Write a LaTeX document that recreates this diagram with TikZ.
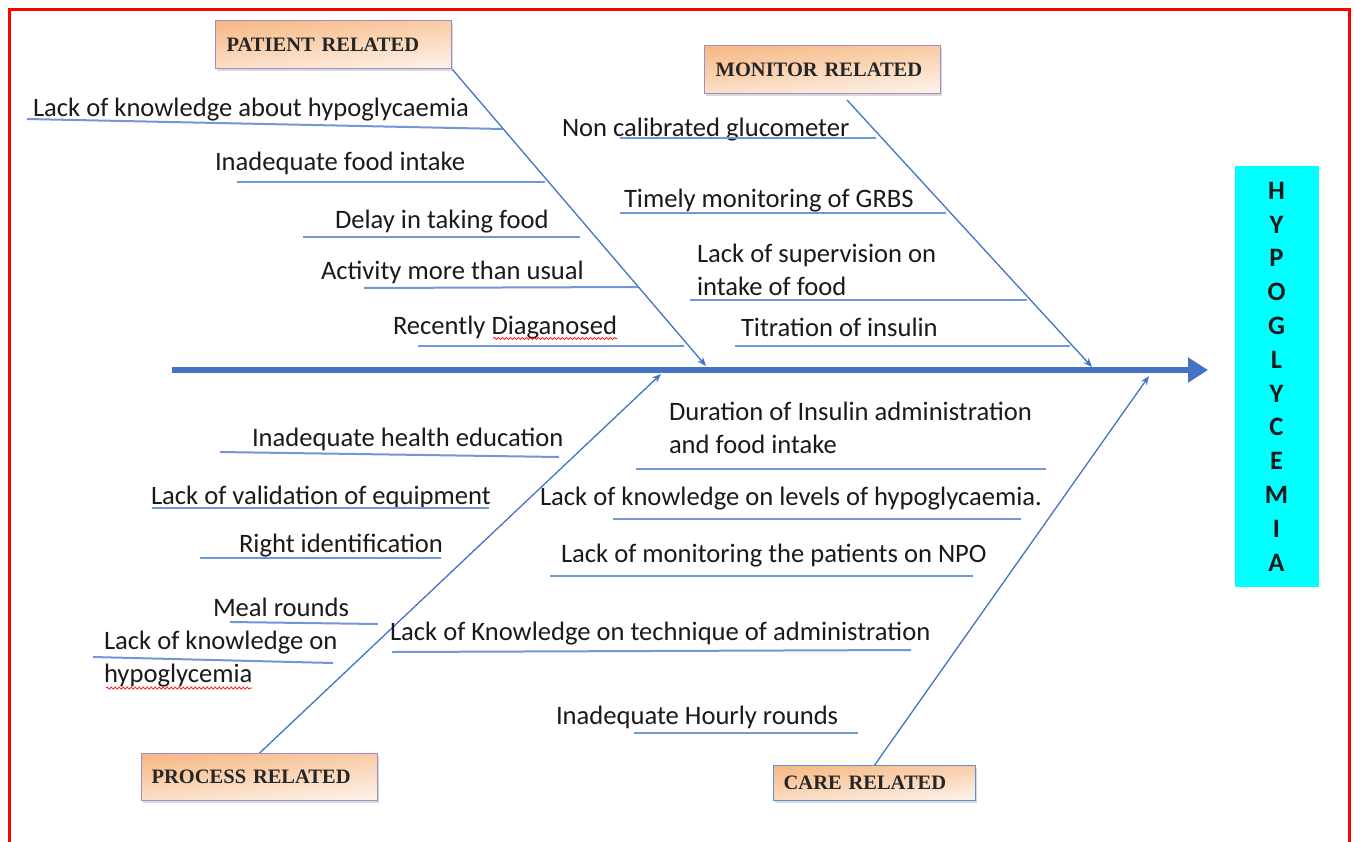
\documentclass[tikz,border=0pt]{standalone}
\usepackage{fontspec}
\setmainfont{Carlito}
\newfontfamily\catfont{Liberation Serif}
\usetikzlibrary{arrows.meta,shadows,calc,decorations.pathmorphing}

\definecolor{bonecol}{HTML}{4472C4}
\definecolor{ulinecol}{HTML}{7097D8}
\definecolor{boxedge}{HTML}{A28CC4}
\definecolor{careedge}{HTML}{5B8FD6}
\definecolor{peachdark}{HTML}{F7BA86}
\definecolor{peachlight}{HTML}{FDF1E8}
\definecolor{effectcyan}{HTML}{00FFFF}
\definecolor{textcol}{HTML}{1A1A1A}

\begin{document}
\begin{tikzpicture}[x=1pt,y=-1pt,
  causefont/.style={font=\fontsize{26.6}{33}\selectfont},
  cause/.style={causefont, inner sep=0pt, outer sep=0pt, anchor=base west, text=textcol},
  causetwo/.style={causefont, inner sep=0pt, outer sep=0pt, anchor=north west, align=left, text=textcol},
  catbox/.style={draw=boxedge, line width=1.3pt, top color=peachdark, bottom color=peachlight,
    shading angle=6, drop shadow={shadow xshift=1.5pt, shadow yshift=-2.5pt, opacity=0.3},
    font=\catfont\bfseries\fontsize{20.5}{24}\selectfont, text=black!85,
    anchor=north west, inner xsep=11pt, inner ysep=0pt, align=left},
  effectbox/.style={fill=effectcyan, minimum width=84pt, minimum height=421pt, inner sep=0pt,
    font=\bfseries\fontsize{26.6}{33.8}\selectfont, align=center, text=textcol},
  bonearrow/.style={draw=bonecol, line width=1.3pt, -{Stealth[length=9pt,width=7pt]}},
  underline/.style={draw=ulinecol, line width=2pt},
  spine/.style={draw=bonecol, line width=6pt, -{Triangle[length=20pt,width=24pt]}},
  squiggle/.style={draw=red, line width=0.7pt, decorate, decoration={snake, amplitude=1.1pt, segment length=4pt}},
  frame/.style={draw=red, line width=3pt}
]
\useasboundingbox (0,0) rectangle (1355,841);

% outer frame (open at the bottom)
\draw[frame] (9,845) -- (9,9) -- (1349,9) -- (1349,845);

% category boxes
\node[catbox, text width=214pt, minimum height=48pt] (patient) at (215,20) {PATIENT RELATED};
\node[catbox, text width=214pt, minimum height=48pt] (monitor) at (704,45) {MONITOR RELATED};
\node[catbox, inner xsep=10pt, text width=216pt, minimum height=47pt] (process) at (141,753) {PROCESS RELATED};
\node[catbox, draw=careedge, inner xsep=10pt, text width=182pt, minimum height=35pt] (care) at (773,765) {CARE RELATED};

% effect
\node[effectbox] (hypo) at (1276.5,376.5) {H\\Y\\P\\O\\G\\L\\Y\\C\\E\\M\\I\\A};

% spine
\coordinate (tail) at (172,370);
\coordinate (head) at (1208,370);
\draw[spine] (tail) -- (head);

% bones
\coordinate (pjoin) at (706,366);
\coordinate (mstart) at (847,100);
\coordinate (mjoin) at (1092,367);
\coordinate (rjoin) at (661,374);
\coordinate (cjoin) at (1149,376);
\draw[bonearrow] (patient.south east) -- (pjoin);
\draw[bonearrow] (mstart) -- (mjoin);
\draw[bonearrow] (process.north) -- (rjoin);
\draw[bonearrow] (care.north) -- (cjoin);

% patient related causes
\node[cause] (p1) at (33,116) {Lack of knowledge about hypoglycaemia};
\node[cause] (p2) at (215,170) {Inadequate food intake};
\node[cause] (p3) at (335,228) {Delay in taking food};
\node[cause] (p4) at (321,279) {Activity more than usual};
\node[cause] (p5) at (393,334) {Recently Diaganosed};
\draw[underline] (27,119) -- (503,129);
\draw[underline] (237,182) -- (545,182);
\draw[underline] (303,237) -- (580,237);
\draw[underline] (364,288) -- (638,287);
\draw[underline] (418,346) -- (684,346);
\draw[squiggle] ($(p5.base east)+(-124,4.5)$) -- ($(p5.base east)+(0,4.5)$);

% monitor related causes
\node[cause] (m1) at (562,136) {Non calibrated glucometer};
\node[cause] (m2) at (624,207) {Timely monitoring of GRBS};
\node[causetwo] (m3) at (697,244) {Lack of supervision on\\intake of food};
\node[cause] (m4) at (741,336) {Titration of insulin};
\draw[underline] (620,138) -- (876,138);
\draw[underline] (620,213) -- (946,213);
\draw[underline] (690,300) -- (1027,300);
\draw[underline] (735,346) -- (1070,346);

% process related causes
\node[cause] (r1) at (252,446) {Inadequate health education};
\node[cause] (r2) at (151,504) {Lack of validation of equipment};
\node[cause] (r3) at (239,552) {Right identification};
\node[cause] (r4) at (213,616) {Meal rounds};
\node[causetwo] (r5) at (104,631) {Lack of knowledge on\\hypoglycemia};
\draw[underline] (220,452) -- (559,457);
\draw[underline] (152,508) -- (489,508);
\draw[underline] (200,558) -- (441,558);
\draw[underline] (230,622) -- (378,624);
\draw[underline] (93,657) -- (333,663);
\draw[squiggle] ($(r5.south west)+(2,1)$) -- ($(r5.south west)+(148,1)$);

% care related causes
\node[causetwo] (c1) at (669,402) {Duration of Insulin administration\\and food intake};
\node[cause] (c2) at (540,505) {Lack of knowledge on levels of hypoglycaemia.};
\node[cause] (c3) at (561,562) {Lack of monitoring the patients on NPO};
\node[cause] (c4) at (390,640) {Lack of Knowledge on technique of administration};
\node[cause] (c5) at (556,724) {Inadequate Hourly rounds};
\draw[underline] (636,469) -- (1046,469);
\draw[underline] (613,519) -- (1021,519);
\draw[underline] (550,576) -- (973,576);
\draw[underline] (392,652) -- (911,650);
\draw[underline] (634,733) -- (858,733);
\end{tikzpicture}
\end{document}
